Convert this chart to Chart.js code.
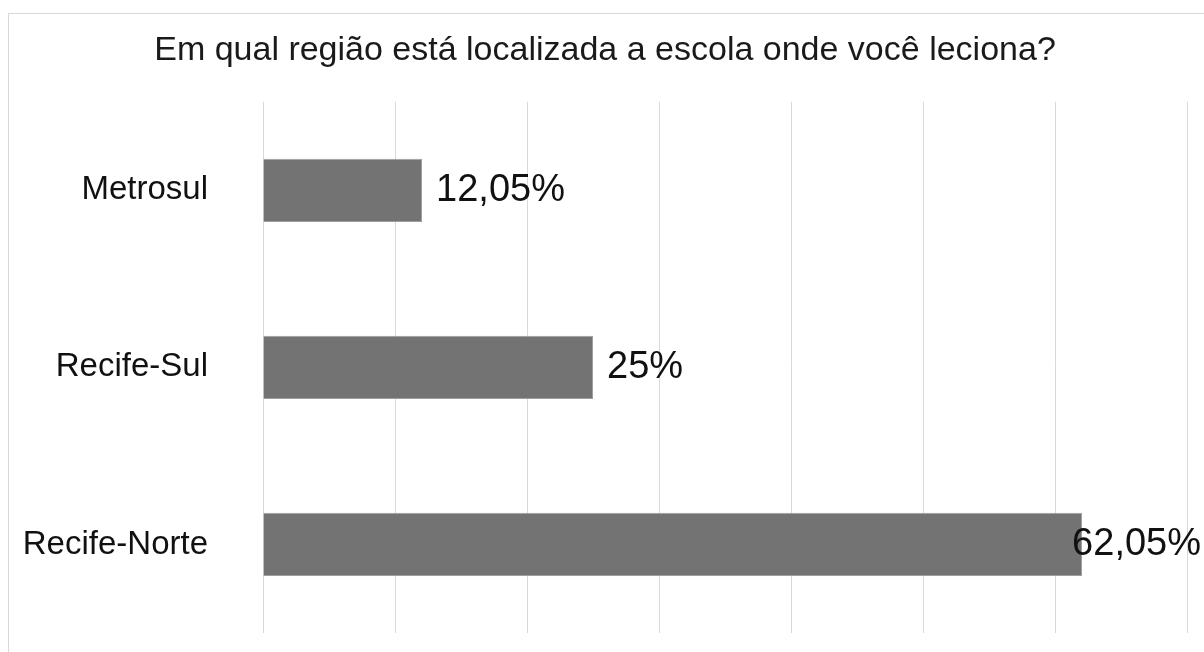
<!DOCTYPE html>
<html>
<head>
<meta charset="utf-8">
<script src="https://cdn.jsdelivr.net/npm/chart.js@4/dist/chart.umd.min.js"></script>
<style>
  body { margin: 0; background: #fff; overflow: hidden; }
  #wrap { width: 1204px; height: 652px; }
</style>
</head>
<body>
<div id="wrap"><canvas id="chart" width="1204" height="652"></canvas></div>
<script>
// data
const regions = ['Metrosul', 'Recife-Sul', 'Recife-Norte'];
const shares = [12.05, 25, 62.05];
const shareLabels = ['12,05%', '25%', '62,05%'];
const titleText = 'Em qual região está localizada a escola onde você leciona?';

const FONT = "'Liberation Sans', Arial, sans-serif";

// light frame around the whole chart (cut off at right and bottom)
const framePlugin = {
    id: 'frame',
    beforeDraw(chart) {
        const c = chart.ctx;
        c.save();
        c.fillStyle = '#fff';
        c.fillRect(0, 0, chart.width, chart.height);
        c.strokeStyle = '#d9d9d9';
        c.lineWidth = 1;
        c.strokeRect(8.5, 13.5, chart.width + 20, chart.height + 20);
        c.restore();
    }
};

// value labels at the end of each bar, kept inside the canvas
const valueLabels = {
    id: 'valueLabels',
    afterDatasetsDraw(chart) {
        const c = chart.ctx;
        const meta = chart.getDatasetMeta(0);
        c.save();
        c.font = '38px ' + FONT;
        c.fillStyle = '#111';
        c.textBaseline = 'middle';
        c.textAlign = 'left';
        meta.data.forEach((bar, i) => {
            const txt = shareLabels[i];
            const w = c.measureText(txt).width;
            let x = bar.x + 14;
            if (x + w > chart.width - 3) x = chart.width - 3 - w;
            c.fillText(txt, x, bar.y);
        });
        c.restore();
    }
};

const ctx = document.getElementById('chart').getContext('2d');

new Chart(ctx, {
    type: 'bar',
    data: {
        labels: regions,
        datasets: [{
            data: shares,
            backgroundColor: '#737373',
            borderColor: '#9e9e9e',
            borderWidth: 1,
            barPercentage: 0.357,
            categoryPercentage: 1
        }]
    },
    options: {
        indexAxis: 'y',
        responsive: false,
        animation: false,
        layout: { padding: { left: 23, right: 17, top: 0, bottom: 19 } },
        plugins: {
            legend: { display: false },
            tooltip: { enabled: false },
            title: {
                display: true,
                text: titleText,
                color: '#1a1a1a',
                font: { family: FONT, size: 34, weight: 'normal' },
                padding: { top: 30, bottom: 31 }
            }
        },
        scales: {
            x: {
                min: 0,
                max: 70,
                ticks: { display: false, stepSize: 10 },
                grid: { color: '#d9d9d9', lineWidth: 1, drawTicks: false },
                border: { display: false },
                afterFit(scale) { scale.height = 0; }
            },
            y: {
                ticks: {
                    color: '#111',
                    font: { family: FONT, size: 33 },
                    padding: 55
                },
                grid: { display: false, drawTicks: false },
                border: { display: false },
                afterFit(scale) {
                    scale.width = 240;
                    // the tick padding should only push labels sideways
                    scale.paddingTop = 0;
                    scale.paddingBottom = 0;
                }
            }
        }
    },
    plugins: [framePlugin, valueLabels]
});
</script>
</body>
</html>
